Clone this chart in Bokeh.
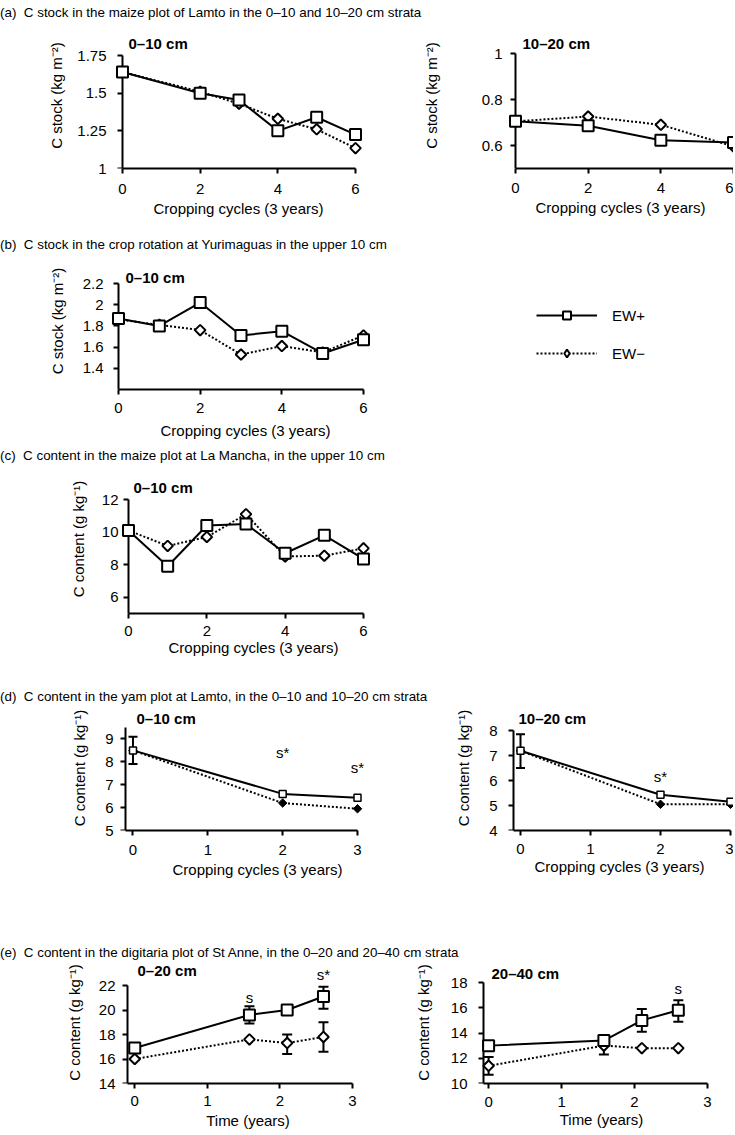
import numpy as np
from bokeh.plotting import figure
from bokeh.models import (ColumnDataSource, FixedTicker, Label, Whisker, TeeHead,
                          Legend, LegendItem, Div, Range1d, LinearAxis)
from bokeh.layouts import column, row
from bokeh.embed import file_html
from bokeh.resources import INLINE

FONT = "Liberation Sans"
FS = "15px"

# ---------------- data ----------------
# (a) Lamto maize plot, C stock (kg m-2)
a0_cycles = [0, 2, 3, 4, 5, 6]
a0_ew_plus = [1.64, 1.50, 1.455, 1.25, 1.34, 1.225]
a0_ew_minus = [1.64, 1.51, 1.43, 1.33, 1.26, 1.135]
a1_cycles = [0, 2, 4, 6]
a1_ew_plus = [0.705, 0.686, 0.623, 0.613]
a1_ew_minus = [0.705, 0.726, 0.69, 0.596]
a0_yticks = [1, 1.25, 1.5, 1.75]
a0_ylabels = ["1", "1.25", "1.5", "1.75"]
a1_yticks = [0.6, 0.8, 1]
a1_ylabels = ["0.6", "0.8", "1"]
cyc_ticks = [0, 2, 4, 6]
cyc_labels = ["0", "2", "4", "6"]

# (b) Yurimaguas crop rotation, C stock (kg m-2)
b_cycles = [0, 1, 2, 3, 4, 5, 6]
b_ew_plus = [1.87, 1.80, 2.02, 1.71, 1.75, 1.54, 1.67]
b_ew_minus = [1.86, 1.81, 1.76, 1.53, 1.61, 1.55, 1.71]
b_yticks = [1.4, 1.6, 1.8, 2, 2.2]
b_ylabels = ["1.4", "1.6", "1.8", "2", "2.2"]

# (c) La Mancha maize plot, C content (g kg-1)
c_cycles = [0, 1, 2, 3, 4, 5, 6]
c_ew_plus = [10.1, 7.9, 10.4, 10.5, 8.7, 9.8, 8.35]
c_ew_minus = [10.1, 9.15, 9.7, 11.1, 8.5, 8.55, 9.0]
c_yticks = [6, 8, 10, 12]
c_ylabels = ["6", "8", "10", "12"]

# (d) Lamto yam plot, C content (g kg-1)
d_cycles = [0, 2, 3]
d0_ew_plus = [8.5, 6.6, 6.43]
d0_ew_minus = [8.5, 6.2, 5.95]
d0_err_x = [0]
d0_err_low = [7.9]
d0_err_high = [9.1]
d1_ew_plus = [7.19, 5.43, 5.15]
d1_ew_minus = [7.19, 5.05, 5.05]
d1_err_x = [0]
d1_err_low = [6.5]
d1_err_high = [7.85]
d0_sig_x = [2, 3]
d0_sig_y = [8.4, 7.75]
d0_sig_text = ["s*", "s*"]
d1_sig_x = [2]
d1_sig_y = [6.15]
d1_sig_text = ["s*"]
d0_yticks = [5, 6, 7, 8, 9]
d1_yticks = [4, 5, 6, 7, 8]
unit_ticks = [0, 1, 2, 3]
unit_labels = ["0", "1", "2", "3"]

# (e) St Anne digitaria plot, C content (g kg-1)
e_time = [0, 1.58, 2.1, 2.6]
e0_ew_plus = [16.9, 19.6, 20.0, 21.1]
e0_ew_minus = [16.0, 17.6, 17.3, 17.8]
e0_plus_err_x = [1.58, 2.6]
e0_plus_err_low = [18.9, 20.1]
e0_plus_err_high = [20.3, 21.9]
e0_minus_err_x = [2.1, 2.6]
e0_minus_err_low = [16.4, 16.6]
e0_minus_err_high = [18.0, 19.0]
e1_ew_plus = [13.0, 13.4, 15.0, 15.8]
e1_ew_minus = [11.4, 13.0, 12.8, 12.8]
e1_plus_err_x = [2.1, 2.6]
e1_plus_err_low = [14.1, 14.9]
e1_plus_err_high = [15.9, 16.6]
e1_minus_err_x = [0, 1.58]
e1_minus_err_low = [10.7, 12.3]
e1_minus_err_high = [12.1, 13.7]
e0_sig_x = [1.58, 2.6]
e0_sig_y = [21.0, 22.9]
e0_sig_text = ["s", "s*"]
e1_sig_x = [2.6]
e1_sig_y = [17.5]
e1_sig_text = ["s"]
e0_yticks = [14, 16, 18, 20, 22]
e1_yticks = [10, 12, 14, 16, 18]

legend_labels = ["EW+", "EW\u2212"]
titles = [
    "(a)&nbsp;&nbsp;C stock in the maize plot of Lamto in the 0\u201310 and 10\u201320 cm strata",
    "(b)&nbsp;&nbsp;C stock in the crop rotation at Yurimaguas in the upper 10 cm",
    "(c)&nbsp;&nbsp;C content in the maize plot at La Mancha, in the upper 10 cm",
    "(d)&nbsp;&nbsp;C content in the yam plot at Lamto, in the 0\u201310 and 10\u201320 cm strata",
    "(e)&nbsp;&nbsp;C content in the digitaria plot of St Anne, in the 0\u201320 and 20\u201340 cm strata",
]
XL_CYC = "Cropping cycles (3 years)"
XL_TIME = "Time (years)"
YL_STOCK = "C stock (kg m\u207b\u00b2)"
YL_CONT = "C content (g kg\u207b\u00b9)"

PADL = 8
DIAMOND = dict(marker="square", angle=np.pi / 4)


def to_labels(ticks):
    return [("%g" % t) for t in ticks]


def style_axis(ax):
    ax.axis_line_width = 2
    ax.axis_line_color = "black"
    ax.major_tick_line_width = 2
    ax.major_tick_line_color = "black"
    ax.major_tick_out = 5
    ax.major_tick_in = 0
    ax.minor_tick_line_color = None
    ax.major_label_text_font = FONT
    ax.major_label_text_font_size = FS
    ax.major_label_text_color = "black"
    ax.axis_label_text_font = FONT
    ax.axis_label_text_font_size = FS
    ax.axis_label_text_font_style = "normal"
    ax.axis_label_text_color = "black"


def make_panel(fig_xy, size, xgeo, ygeo, xticks, xlabels, yticks, ylabels,
               xlabel, ylabel, so, depth, depth_off):
    """fig_xy: page position of the figure; xgeo = (xa, x1, px_xa, px_x1);
    ygeo = (y0, y1, py_y1, py_y0); so = (x tick, x label, y tick, y label) standoffs."""
    fx, fy = fig_xy
    W, H = size
    xa, x1, px_xa, px_x1 = xgeo
    y0, y1, py_y1, py_y0 = ygeo
    sx = (px_x1 - px_xa) / (x1 - xa)
    sy = (py_y0 - py_y1) / (y1 - y0)
    left = int(round(px_xa - fx - PADL))
    bottom = int(round(H - (py_y0 - fy)))
    xr = Range1d(xa - (px_xa - fx - left) / sx, x1 + (fx + W - px_x1) / sx)
    yr = Range1d(y0, y1 + (py_y1 - fy) / sy)
    p = figure(width=W, height=H, output_backend="svg", toolbar_location=None,
               title=None, x_range=xr, y_range=yr,
               min_border_left=left, min_border_top=0, min_border_right=0,
               min_border_bottom=bottom, margin=(0, 0, 0, 0))
    p.outline_line_color = None
    p.grid.visible = False
    p.background_fill_color = "white"
    p.border_fill_color = "white"
    for ax in p.axis:
        style_axis(ax)
    # x axis at frame bottom
    p.xaxis.ticker = FixedTicker(ticks=xticks)
    p.xaxis.major_label_overrides = dict(zip(xticks, xlabels))
    p.xaxis.bounds = (xa, x1)
    p.xaxis.axis_label = xlabel
    p.xaxis.major_label_standoff = so[0]
    p.xaxis.axis_label_standoff = so[1]
    # y axis at frame edge: tick labels and title only
    lab = p.yaxis[0]
    lab.ticker = FixedTicker(ticks=yticks)
    lab.major_label_overrides = dict(zip(yticks, ylabels))
    lab.axis_line_color = None
    lab.major_tick_line_color = None
    lab.major_tick_out = 0
    lab.major_label_standoff = so[2] + 5 - PADL
    lab.axis_label = ylabel
    lab.axis_label_standoff = so[3]
    # y axis line and ticks drawn at x = xa
    line_ax = LinearAxis(fixed_location=xa, ticker=FixedTicker(ticks=yticks), bounds=(y0, y1))
    style_axis(line_ax)
    line_ax.major_label_text_color = None
    p.add_layout(line_ax, "left")
    p.add_layout(Label(x=xa, y=y1, x_offset=depth_off[0], y_offset=depth_off[1],
                       text=depth, text_font=FONT, text_font_size=FS,
                       text_font_style="bold", text_baseline="middle", text_align="left",
                       text_color="black"))
    return p


def draw_series(p, x, yplus, yminus, small=False):
    p.line(x, yminus, line_color="black", line_width=2, line_dash="2 2")
    p.line(x, yplus, line_color="black", line_width=2)
    if small:
        p.scatter(x, yminus, size=6, line_width=1, fill_color="black",
                  line_color="black", level="overlay", **DIAMOND)
        p.scatter(x, yplus, marker="square", size=7, line_width=1.5,
                  fill_color="white", line_color="black", level="overlay")
    else:
        p.scatter(x, yminus, size=7.5, line_width=2, fill_color="white",
                  line_color="black", level="overlay", **DIAMOND)
        p.scatter(x, yplus, marker="square", size=11, line_width=2,
                  fill_color="white", line_color="black", level="overlay")


def add_err(p, xs, lows, highs, head=9):
    src = ColumnDataSource(dict(x=xs, lo=lows, hi=highs))
    p.add_layout(Whisker(source=src, base="x", lower="lo", upper="hi", dimension="height",
                         line_color="black", line_width=2, level="underlay",
                         lower_head=TeeHead(size=head, line_width=2, line_color="black"),
                         upper_head=TeeHead(size=head, line_width=2, line_color="black")))


def add_sig(p, xs, ys, texts):
    for x, y, t in zip(xs, ys, texts):
        p.add_layout(Label(x=x, y=y, text=t, text_font=FONT, text_font_size=FS,
                           text_align="center", text_baseline="middle", text_color="black"))


def title_div(txt, h, top):
    html = ('<div style="margin-top:%dpx; line-height:16px; font-family:\'%s\'; '
            'font-size:13.4px; color:black; white-space:nowrap;">%s</div>' % (top, FONT, txt))
    return Div(text=html, width=735, height=h, margin=(0, 0, 0, 0))


# ---------------- row (a) ----------------
pa0 = make_panel((0, 22), (362, 214), (0, 6, 122, 355), (1, 1.75, 55, 168),
                 cyc_ticks, cyc_labels, a0_yticks, a0_ylabels, XL_CYC, YL_STOCK,
                 (10, 3, 11, 9), "0\u201310 cm", (6, 12))
draw_series(pa0, a0_cycles, a0_ew_plus, a0_ew_minus)
pa1 = make_panel((362, 22), (371, 214), (0, 6, 515, 733), (0.5, 1, 53, 168),
                 cyc_ticks, cyc_labels, a1_yticks, a1_ylabels, XL_CYC, YL_STOCK,
                 (9, 3, 8, 39), "10\u201320 cm", (7, 10))
draw_series(pa1, a1_cycles, a1_ew_plus, a1_ew_minus)

# ---------------- row (b) ----------------
pb = make_panel((0, 252), (380, 196), (0, 6, 118, 363), (1.2, 2.2, 283, 389),
                cyc_ticks, cyc_labels, b_yticks, b_ylabels, XL_CYC, YL_STOCK,
                (8, 6, 10, 14), "0\u201310 cm", (7, 6))
draw_series(pb, b_cycles, b_ew_plus, b_ew_minus)

pl = figure(width=353, height=196, output_backend="svg", toolbar_location=None, title=None,
            x_range=Range1d(0, 1), y_range=Range1d(0, 1), x_axis_location=None,
            y_axis_location=None, min_border_left=103, min_border_top=0,
            min_border_right=0, min_border_bottom=59, margin=(0, 0, 0, 0))
pl.outline_line_color = None
pl.grid.visible = False
nan_pt = np.array([np.nan])
lp = pl.line(x=nan_pt, y=nan_pt, line_color="black", line_width=2)
sp = pl.scatter(x=nan_pt, y=nan_pt, marker="square", size=11, line_width=2,
                fill_color="white", line_color="black")
lm = pl.line(x=nan_pt, y=nan_pt, line_color="black", line_width=2, line_dash="2 2")
sm = pl.scatter(x=nan_pt, y=nan_pt, marker="diamond", size=12, line_width=2,
                fill_color="white", line_color="black")
legend = Legend(items=[LegendItem(label=legend_labels[0], renderers=[lp, sp]),
                       LegendItem(label=legend_labels[1], renderers=[lm, sm])],
                location="top_left", margin=53, padding=0, border_line_color=None,
                background_fill_alpha=0, glyph_width=61, glyph_height=20, label_height=20,
                spacing=18, label_standoff=15, label_text_font=FONT,
                label_text_font_size=FS, label_text_color="black")
pl.add_layout(legend)

# ---------------- row (c) ----------------
pc = make_panel((0, 464), (386, 225), (0, 6, 128, 363), (5, 12, 499, 613),
                cyc_ticks, cyc_labels, c_yticks, c_ylabels, XL_CYC, YL_CONT,
                (7, 0, 5, 12), "0\u201310 cm", (5, 12))
draw_series(pc, c_cycles, c_ew_plus, c_ew_minus)

# ---------------- row (d) ----------------
pd0 = make_panel((0, 705), (397, 240), (-0.1, 3, 125, 357), (5, 9.5, 727, 830),
                 unit_ticks, unit_labels, d0_yticks, to_labels(d0_yticks), XL_CYC, YL_CONT,
                 (9, 3, 7, 14), "0\u201310 cm", (11, 9))
add_err(pd0, d0_err_x, d0_err_low, d0_err_high, head=9)
draw_series(pd0, d_cycles, d0_ew_plus, d0_ew_minus, small=True)
add_sig(pd0, d0_sig_x, d0_sig_y, d0_sig_text)
pd1 = make_panel((397, 705), (336, 240), (-0.1, 3, 513, 730), (4, 8, 730, 830),
                 unit_ticks, unit_labels, d1_yticks, to_labels(d1_yticks), XL_CYC, YL_CONT,
                 (8, 1, 11, 14), "10\u201320 cm", (5, 12))
add_err(pd1, d1_err_x, d1_err_low, d1_err_high, head=9)
draw_series(pd1, d_cycles, d1_ew_plus, d1_ew_minus, small=True)
add_sig(pd1, d1_sig_x, d1_sig_y, d1_sig_text)

# ---------------- row (e) ----------------
pe0 = make_panel((0, 961), (376, 172), (-0.1, 3, 127, 352), (14, 22, 985, 1083),
                 unit_ticks, unit_labels, e0_yticks, to_labels(e0_yticks), XL_TIME, YL_CONT,
                 (7, 3, 7, 13), "0\u201320 cm", (10, 15))
add_err(pe0, e0_plus_err_x, e0_plus_err_low, e0_plus_err_high, head=10)
add_err(pe0, e0_minus_err_x, e0_minus_err_low, e0_minus_err_high, head=10)
draw_series(pe0, e_time, e0_ew_plus, e0_ew_minus)
add_sig(pe0, e0_sig_x, e0_sig_y, e0_sig_text)
pe1 = make_panel((376, 961), (351, 172), (-0.07, 3, 483, 707), (10, 18, 982, 1083),
                 unit_ticks, unit_labels, e1_yticks, to_labels(e1_yticks), XL_TIME, YL_CONT,
                 (8, 1, 11, 16), "20\u201340 cm", (8, 9))
add_err(pe1, e1_plus_err_x, e1_plus_err_low, e1_plus_err_high, head=10)
add_err(pe1, e1_minus_err_x, e1_minus_err_low, e1_minus_err_high, head=10)
draw_series(pe1, e_time, e1_ew_plus, e1_ew_minus)
add_sig(pe1, e1_sig_x, e1_sig_y, e1_sig_text)

layout = column(
    title_div(titles[0], 22, 5),
    row(pa0, pa1, spacing=0),
    title_div(titles[1], 16, 1),
    row(pb, pl, spacing=0),
    title_div(titles[2], 16, 0),
    pc,
    title_div(titles[3], 16, 0),
    row(pd0, pd1, spacing=0),
    title_div(titles[4], 16, 0),
    row(pe0, pe1, spacing=0),
    spacing=0,
)

open("out.html", "w").write(file_html(layout, INLINE))
